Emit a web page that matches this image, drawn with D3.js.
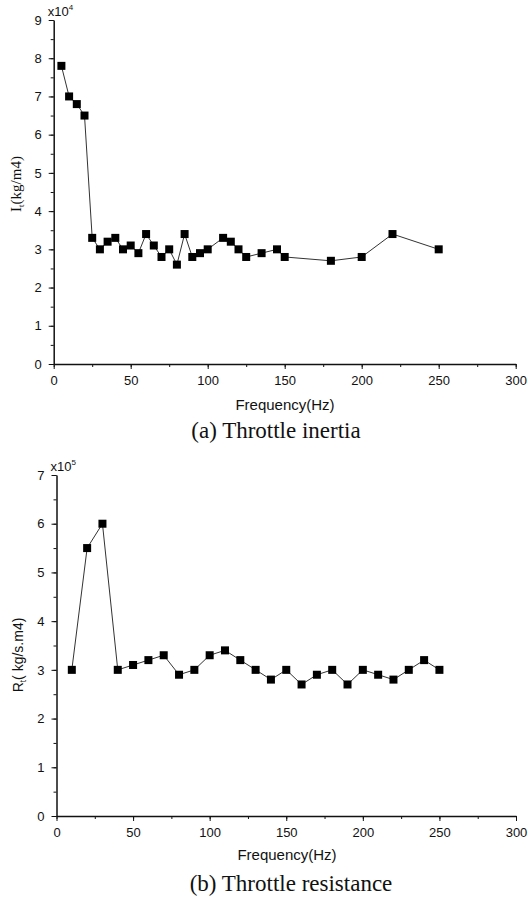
<!DOCTYPE html>
<html><head><meta charset="utf-8">
<script src="https://cdn.jsdelivr.net/npm/d3@7"></script>
<style>
html,body{margin:0;padding:0;background:#fff;}
svg{display:block;}
</style>
</head><body>
<svg id="c" width="528" height="906"></svg>
<script>
// Panel (a): throttle inertia (x10^4 kg/m4)
const freqA = [5,10,15,20,25,30,35,40,45,50,55,60,65,70,75,80,85,90,95,100,110,115,120,125,135,145,150,180,200,220,250];
const inertia = [7.8,7.0,6.8,6.5,3.3,3.0,3.2,3.3,3.0,3.1,2.9,3.4,3.1,2.8,3.0,2.6,3.4,2.8,2.9,3.0,3.3,3.2,3.0,2.8,2.9,3.0,2.8,2.7,2.8,3.4,3.0];
// Panel (b): throttle resistance (x10^5 kg/s.m4)
const freqB = [10,20,30,40,50,60,70,80,90,100,110,120,130,140,150,160,170,180,190,200,210,220,230,240,250];
const resistance = [3.0,5.5,6.0,3.0,3.1,3.2,3.3,2.9,3.0,3.3,3.4,3.2,3.0,2.8,3.0,2.7,2.9,3.0,2.7,3.0,2.9,2.8,3.0,3.2,3.0];
const xTicks = [0,50,100,150,200,250,300];
const yTicksA = [0,1,2,3,4,5,6,7,8,9];
const yTicksB = [0,1,2,3,4,5,6,7];

const svg = d3.select("#c");
const SANS = "Liberation Sans, Arial, sans-serif";
const SERIF = "Liberation Serif, Times New Roman, serif";

function panel(cfg){
  const g = svg.append("g");
  const x = d3.scaleLinear().domain([0,300]).range([cfg.x0, cfg.x1]);
  const y = d3.scaleLinear().domain([0,cfg.ymax]).range([cfg.y0, cfg.y1]);

  // minor ticks
  const xAxisMinor = d3.axisBottom(x).tickValues(d3.range(0,301,25)).tickSize(3).tickFormat("");
  const yAxisMinor = d3.axisLeft(y).tickValues(d3.range(0,cfg.ymax+0.01,0.5)).tickSize(3).tickFormat("");
  g.append("g").attr("transform",`translate(0,${cfg.y0})`).call(xAxisMinor).call(s=>s.select(".domain").remove());
  g.append("g").attr("transform",`translate(${cfg.x0},0)`).call(yAxisMinor).call(s=>s.select(".domain").remove());

  const xAxis = d3.axisBottom(x).tickValues(xTicks).tickSize(5).tickSizeOuter(0).tickPadding(7).tickFormat(d3.format("d"));
  const yAxis = d3.axisLeft(y).tickValues(cfg.yTicks).tickSize(5).tickSizeOuter(0).tickPadding(7).tickFormat(d3.format("d"));
  const gx = g.append("g").attr("transform",`translate(0,${cfg.y0})`).call(xAxis);
  const gy = g.append("g").attr("transform",`translate(${cfg.x0},0)`).call(yAxis);
  [gx,gy].forEach(a=>{
    a.selectAll("text").attr("font-family",SANS).attr("font-size",13).attr("fill","#111");
    a.selectAll("line").attr("stroke","#111").attr("stroke-width",1);
    a.select(".domain").attr("stroke","#111").attr("stroke-width",1.5);
  });
  g.selectAll(".tick line").attr("stroke","#111");

  // multiplier
  const m = g.append("text").attr("x",cfg.x0-6).attr("y",cfg.y1-4)
    .attr("font-family",SANS).attr("font-size",13).attr("fill","#111");
  m.append("tspan").text("x10");
  m.append("tspan").attr("dy",-6).attr("font-size",8).text(cfg.exp);

  // line + markers
  const pts = cfg.xs.map((d,i)=>[d,cfg.ys[i]]);
  const line = d3.line().x(d=>x(d[0])).y(d=>y(d[1]));
  g.append("path").attr("d",line(pts)).attr("fill","none").attr("stroke","#333").attr("stroke-width",1);
  g.selectAll("rect.m").data(pts).enter().append("rect")
    .attr("x",d=>x(d[0])-4).attr("y",d=>y(d[1])-4).attr("width",8).attr("height",8).attr("fill","#000");

  // axis title x
  g.append("text").attr("x",cfg.fx).attr("y",cfg.y0+cfg.fdy).attr("text-anchor","middle")
    .attr("font-family",SANS).attr("font-size",15).attr("fill","#111").text("Frequency(Hz)");
  // caption
  g.append("text").attr("x",cfg.capX).attr("y",cfg.y0+cfg.capDy).attr("text-anchor","middle")
    .attr("font-family",SERIF).attr("font-size",23).attr("fill","#111").text(cfg.caption);
  // y title
  const yt = g.append("text").attr("transform",`translate(${cfg.ytX},${cfg.ytY}) rotate(-90)`).attr("text-anchor","middle")
    .attr("font-family",cfg.ytFont).attr("font-size",cfg.ytSize).attr("fill","#111");
  yt.append("tspan").text(cfg.ytMain);
  yt.append("tspan").attr("dy",3).attr("font-size",cfg.ytSize*0.6).text("t");
  yt.append("tspan").attr("dy",-3).text(cfg.ytRest);
}

panel({x0:53.7,x1:515.7,y0:364,y1:20,ymax:9,yTicks:yTicksA,xs:freqA,ys:inertia,exp:"4",
  fx:285,fdy:46,caption:"(a) Throttle inertia",capX:276,capDy:74,
  ytX:21,ytY:184,ytFont:SERIF,ytSize:15,ytMain:"I",ytRest:"(kg/m4)"});
panel({x0:56.5,x1:516,y0:816,y1:475,ymax:7,yTicks:yTicksB,xs:freqB,ys:resistance,exp:"5",
  fx:287,fdy:44,caption:"(b) Throttle resistance",capX:291,capDy:75,
  ytX:23,ytY:655,ytFont:SANS,ytSize:14,ytMain:"R",ytRest:"( kg/s.m4)"});
</script>
</body></html>
